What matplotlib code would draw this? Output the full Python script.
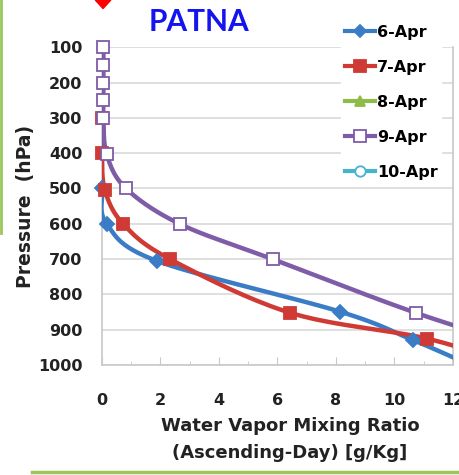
import numpy as np
import matplotlib.pyplot as plt
from matplotlib.lines import Line2D
from matplotlib.patches import Polygon

plt.rcParams["font.family"] = ["DejaVu Sans"]
plt.rcParams["font.weight"] = "bold"

# Water vapour mixing ratio (g/kg) vs pressure (hPa)
apr6_x = [0.0, 0.16, 1.87, 8.14, 10.62, 12.6]
apr6_p = [500, 600, 705, 849, 929, 1000]

apr7_x = [0.0, 0.0, 0.1, 0.73, 2.32, 6.43, 11.1, 14.0]
apr7_p = [300, 400, 505, 601, 700, 852, 925, 1000]

apr8_x = []
apr8_p = []

apr9_x = [0.05, 0.05, 0.05, 0.05, 0.05, 0.16, 0.82, 2.67, 5.86, 10.72, 14.5]
apr9_p = [100, 150, 200, 250, 300, 403, 500, 601, 701, 852, 950]

apr10_x = []
apr10_p = []

x_ticks = [0, 2, 4, 6, 8, 10, 12]
y_ticks = [100, 200, 300, 400, 500, 600, 700, 800, 900, 1000]


def smooth(x, p, n=20):
    # Catmull-Rom curve through the points, like Excel's smoothed line
    pts = np.column_stack([x, p]).astype(float)
    if len(pts) < 3:
        return pts[:, 0], pts[:, 1]
    ext = np.vstack([2 * pts[0] - pts[1], pts, 2 * pts[-1] - pts[-2]])
    out = []
    t = np.linspace(0, 1, n, endpoint=False)[:, None]
    for i in range(1, len(ext) - 2):
        p0, p1, p2, p3 = ext[i - 1], ext[i], ext[i + 1], ext[i + 2]
        seg = 0.5 * ((2 * p1) + (-p0 + p2) * t
                     + (2 * p0 - 5 * p1 + 4 * p2 - p3) * t ** 2
                     + (-p0 + 3 * p1 - 3 * p2 + p3) * t ** 3)
        out.append(seg)
    out.append(pts[-1][None, :])
    out = np.vstack(out)
    return out[:, 0], out[:, 1]


fig = plt.figure(figsize=(4.6, 4.75), dpi=100)
ax = fig.add_axes([0.2217, 0.2316, 0.763, 0.669])

series = [
    ("6-Apr", apr6_x, apr6_p, "#3b7cc6", "D", "#3b7cc6", 7),
    ("7-Apr", apr7_x, apr7_p, "#cf3a35", "s", "#cf3a35", 8.5),
    ("8-Apr", apr8_x, apr8_p, "#8fbb4a", "^", "#8fbb4a", 8),
    ("9-Apr", apr9_x, apr9_p, "#7f5ca8", "s", "white", 8.5),
    ("10-Apr", apr10_x, apr10_p, "#46b3cf", "o", "white", 8),
]

handles = []
for name, xs, ps, col, mk, fc, ms in series:
    if len(xs):
        sx, sp = smooth(xs, ps)
        ax.plot(sx, sp, color=col, lw=3.2, zorder=3)
        pts = ax.plot(xs, ps, ls="none", marker=mk, ms=ms, mfc=fc, mec=col,
                      mew=1.3, zorder=4)
        # keep markers sitting on the y axis whole; drop those past the right edge
        inside = [(a, b) for a, b in zip(xs, ps) if a <= 12]
        pts[0].set_data([a for a, b in inside], [b for a, b in inside])
        pts[0].set_clip_on(False)
    handles.append(Line2D([], [], color=col, lw=3, marker=mk, ms=ms - 0.5,
                          mfc=fc, mec=col, mew=1.3))

ax.set_xlim(0, 12)
ax.set_ylim(1000, 100)
ax.set_xticks(x_ticks)
ax.set_xticks(range(13), minor=True)
ax.set_yticks(y_ticks)

ax.grid(axis="y", color="#d9d9d9", lw=1.2)
ax.set_axisbelow(True)
for s in ["left", "right", "bottom"]:
    ax.spines[s].set_color("#c8c8c8")
    ax.spines[s].set_linewidth(1.2)
ax.spines["top"].set_visible(False)

ax.tick_params(axis="y", length=0, pad=14, labelsize=11.5, labelcolor="#222222")
ax.tick_params(axis="x", which="major", direction="in", length=6, color="#c8c8c8",
               pad=20, labelsize=11.5, labelcolor="#222222")
ax.tick_params(axis="x", which="minor", direction="in", length=3, color="#c8c8c8")
for lab in ax.get_xticklabels() + ax.get_yticklabels():
    lab.set_fontweight("bold")

ax.set_ylabel("Pressure  (hPa)", fontsize=13.5, fontweight="bold", color="#222222",
              va="center")
ax.yaxis.set_label_coords(-0.219, 0.5)
ax.set_xlabel("Water Vapor Mixing Ratio\n(Ascending-Day) [g/Kg]", fontsize=13,
              fontweight="bold", color="#222222", linespacing=1.66)
ax.xaxis.set_label_coords(0.536, -0.163)
ax.xaxis.label.set_verticalalignment("top")

fig.text(0.433, 0.953, "PATNA", color="#1414f0", fontsize=21.5, fontweight="bold",
         ha="center", va="center", family="Lato")

leg = fig.legend(handles, [s[0] for s in series], loc="upper left",
                 bbox_to_anchor=(0.742, 0.955), frameon=True,
                 handlelength=1.9, handletextpad=0.15, labelspacing=1.26,
                 borderpad=0.2, borderaxespad=0,
                 prop={"weight": "bold", "size": 11.5})
leg.get_frame().set_facecolor("white")
leg.get_frame().set_edgecolor("white")
leg.get_frame().set_alpha(1)

# slide decorations
fig.add_artist(Line2D([0.003, 0.003], [1.0, 0.51], color="#9bc65a", lw=2))
fig.add_artist(Line2D([0.07, 1.0], [0.007, 0.007], color="#9bc65a", lw=2.5))
fig.add_artist(Polygon([[0.207, 1.0], [0.241, 1.0], [0.224, 0.982]],
                       closed=True, color="red"))

fig.savefig("out.png", dpi=100)
